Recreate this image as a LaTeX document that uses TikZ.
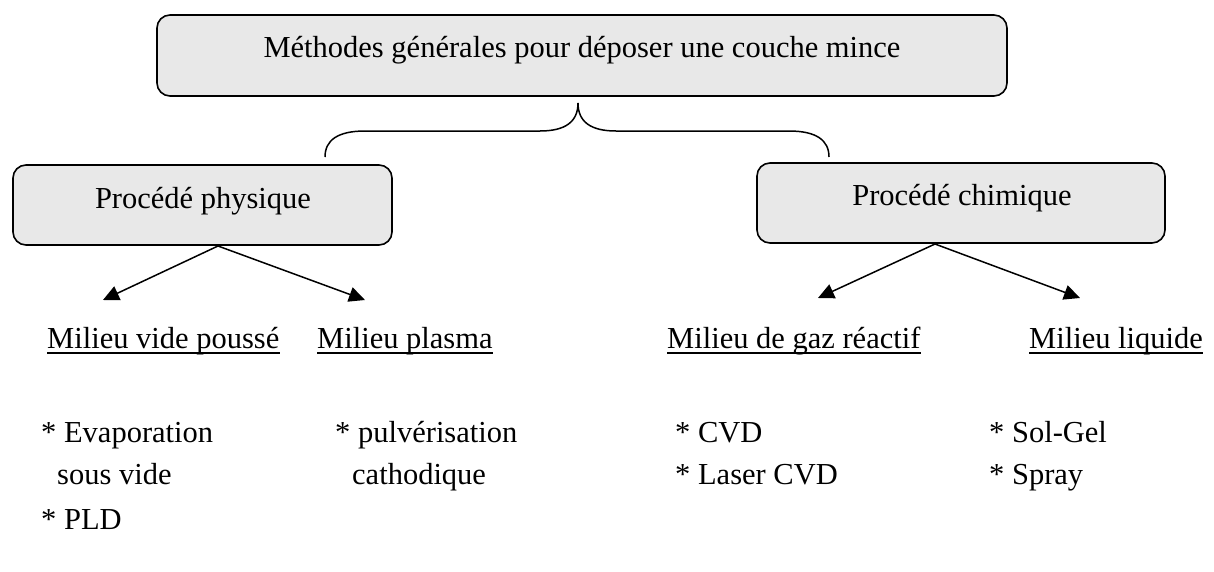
\documentclass[tikz,border=0pt]{standalone}
\usepackage{fontspec}
\setmainfont{Liberation Serif}
\usetikzlibrary{arrows.meta}
\definecolor{boxgray}{RGB}{232,232,232}
\begin{document}
\begin{tikzpicture}[x=1pt,y=-1pt,
  panel/.style={draw, line width=1.6pt, rounded corners=13pt, fill=boxgray, inner sep=0pt},
  txt/.style={font=\fontsize{30.5}{37}\selectfont, inner sep=0pt},
  midtxt/.style={txt, anchor=base},
  lefttxt/.style={txt, anchor=base west},
  arr/.style={line width=1.5pt, -{Triangle[length=16pt,width=15pt]}},
  uline/.style={line width=1.5pt}]
\useasboundingbox (0,0) rectangle (1214,571);

% boxes
\node[panel, minimum width=850pt, minimum height=81pt] (top) at (582,55.5) {};
\node[midtxt] (title) at (582,57) {Méthodes générales pour déposer une couche mince};

\node[panel, minimum width=379pt, minimum height=80pt] (phys) at (202.5,205) {};
\node[midtxt] (physt) at (203,208) {Procédé physique};

\node[panel, minimum width=408pt, minimum height=80pt] (chim) at (961,203) {};
\node[midtxt] (chimt) at (962,205) {Procédé chimique};

% brace joining the two families
\coordinate (bl) at (325,157);
\coordinate (bt) at (578,103);
\coordinate (br) at (829,157);
\draw[line width=1.5pt] (bl) .. controls (325,140) and (338,131) .. (365,131)
  -- (540,131) .. controls (565,131) and (578,122) .. (bt)
  .. controls (578,122) and (591,131) .. (616,131)
  -- (789,131) .. controls (816,131) and (829,140) .. (br);

% media labels
\node[lefttxt] (m1) at (47,348) {Milieu vide poussé};
\node[lefttxt] (m2) at (317,348) {Milieu plasma};
\node[lefttxt] (m3) at (667,348) {Milieu de gaz réactif};
\node[lefttxt] (m4) at (1029,348) {Milieu liquide};
\foreach \m in {m1,m2,m3,m4}
  \draw[uline] ([yshift=-5pt]\m.base west) -- ([yshift=-5pt]\m.base east);

% arrows
\coordinate (pa) at (218,246);
\coordinate (ca) at (935,244);
\coordinate (t1) at (103,300);
\coordinate (t2) at (365,300);
\coordinate (t3) at (818,298);
\coordinate (t4) at (1080,298);
\draw[arr] (pa) -- (t1);
\draw[arr] (pa) -- (t2);
\draw[arr] (ca) -- (t3);
\draw[arr] (ca) -- (t4);

% techniques
\node[lefttxt] (e1) at (41,442) {* Evaporation};
\node[lefttxt] (e2) at (57,484) {sous vide};
\node[lefttxt] (e3) at (41,529) {* PLD};
\node[lefttxt] (p1) at (335,442) {* pulvérisation};
\node[lefttxt] (p2) at (352,484) {cathodique};
\node[lefttxt] (c1) at (675,442) {* CVD};
\node[lefttxt] (c2) at (675,484) {* Laser CVD};
\node[lefttxt] (l1) at (989,442) {* Sol-Gel};
\node[lefttxt] (l2) at (989,484) {* Spray};
\end{tikzpicture}
\end{document}
